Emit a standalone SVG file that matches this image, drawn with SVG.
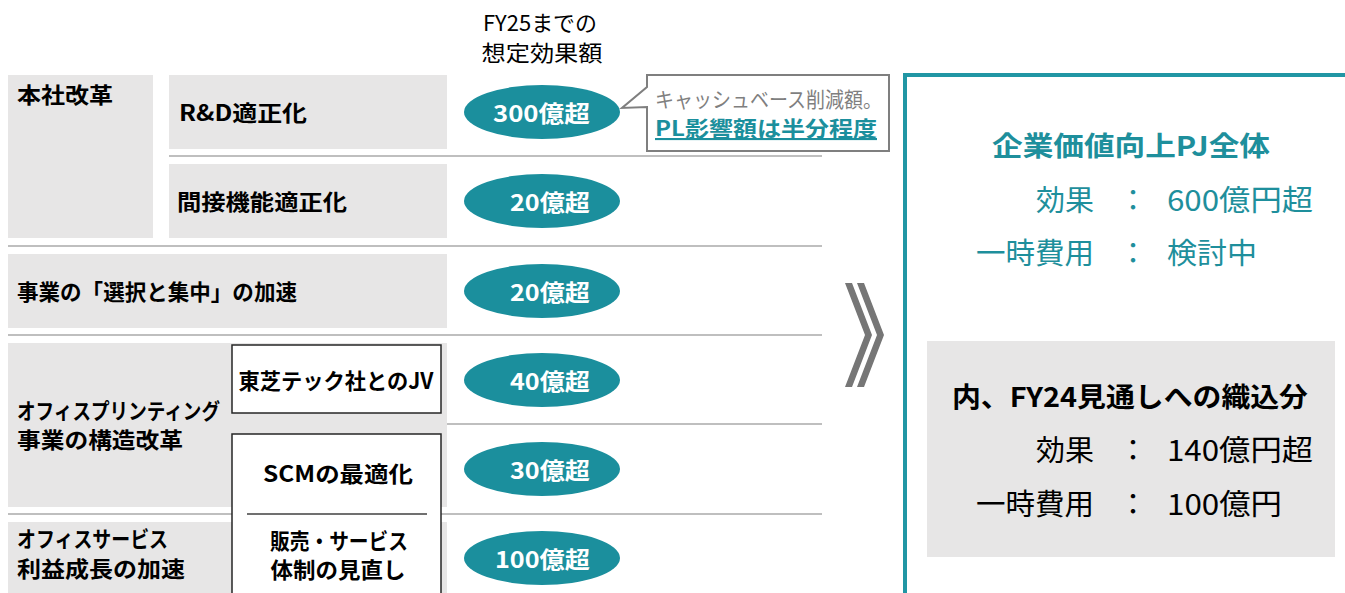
<svg xmlns="http://www.w3.org/2000/svg" width="1345" height="593" viewBox="0 0 1345 593">
<style>
text{font-family:"Noto Sans CJK JP","Noto Sans",sans-serif;}
.gb{fill:#e7e6e6;}
.sep{stroke:#bfbfbf;stroke-width:2;}
.lbl{font-size:22px;font-weight:bold;fill:#000;}
.ell{fill:#1b8f9d;}
.et{font-size:23px;font-weight:bold;fill:#fff;text-anchor:end;}
.wb{fill:#fff;stroke:#262626;stroke-width:1.5;}
.hd{font-size:22px;fill:#000;text-anchor:middle;}
.pv{font-size:29px;fill:#1e8f9c;}
.kv{font-size:29px;fill:#000;}
</style>
<rect width="1345" height="593" fill="#fff"/>

<g id="header">
<text class="hd" x="540" y="31" textLength="114" lengthAdjust="spacingAndGlyphs">FY25までの</text>
<text class="hd" x="542" y="61" textLength="121" lengthAdjust="spacingAndGlyphs">想定効果額</text>
</g>

<g id="separators">
<line class="sep" x1="169" y1="156" x2="822" y2="156"/>
<line class="sep" x1="8" y1="246" x2="822" y2="246"/>
<line class="sep" x1="8" y1="335" x2="822" y2="335"/>
<line class="sep" x1="447" y1="424" x2="822" y2="424"/>
<line class="sep" x1="8" y1="514" x2="822" y2="514"/>
</g>

<g id="honsha">
<rect class="gb" x="8" y="75" width="145" height="163"/>
<text class="lbl" x="17" y="103" textLength="96" lengthAdjust="spacingAndGlyphs">本社改革</text>
</g>
<g id="rnd">
<rect class="gb" x="169" y="75" width="278" height="74"/>
<text class="lbl" x="179" y="121" textLength="128" lengthAdjust="spacingAndGlyphs">R&amp;D適正化</text>
</g>
<g id="kansetsu">
<rect class="gb" x="169" y="164" width="278" height="74"/>
<text class="lbl" x="177" y="210" textLength="170" lengthAdjust="spacingAndGlyphs">間接機能適正化</text>
</g>
<g id="senntaku">
<rect class="gb" x="8" y="254" width="439" height="74"/>
<text class="lbl" x="17" y="300" textLength="280" lengthAdjust="spacingAndGlyphs">事業の「選択と集中」の加速</text>
</g>
<g id="printing">
<rect class="gb" x="8" y="343" width="439" height="164"/>
<text class="lbl" x="17" y="419" textLength="203" lengthAdjust="spacingAndGlyphs">オフィスプリンティング</text>
<text class="lbl" x="17" y="448" textLength="166" lengthAdjust="spacingAndGlyphs">事業の構造改革</text>
</g>
<g id="service">
<rect class="gb" x="8" y="522" width="439" height="75"/>
<text class="lbl" x="17" y="547" textLength="151" lengthAdjust="spacingAndGlyphs">オフィスサービス</text>
<text class="lbl" x="17" y="577" textLength="168" lengthAdjust="spacingAndGlyphs">利益成長の加速</text>
</g>
<g id="jv">
<rect class="wb" x="232" y="345" width="209" height="68"/>
<text class="lbl" x="336" y="389" text-anchor="middle" textLength="195" lengthAdjust="spacingAndGlyphs">東芝テック社とのJV</text>
</g>
<g id="scm">
<rect class="wb" x="232" y="434" width="209" height="170"/>
<line x1="247" y1="514" x2="427" y2="514" stroke="#404040" stroke-width="1.5"/>
<text class="lbl" x="338" y="482" text-anchor="middle" textLength="150" lengthAdjust="spacingAndGlyphs">SCMの最適化</text>
<text class="lbl" x="339" y="549" text-anchor="middle" textLength="138" lengthAdjust="spacingAndGlyphs">販売・サービス</text>
<text class="lbl" x="338" y="578" text-anchor="middle" textLength="135" lengthAdjust="spacingAndGlyphs">体制の見直し</text>
</g>

<g id="e300"><ellipse class="ell" cx="542" cy="112" rx="78" ry="27"/><text class="et" x="590" y="122" textLength="97" lengthAdjust="spacingAndGlyphs">300億超</text></g>
<g id="e20a"><ellipse class="ell" cx="542" cy="201" rx="78" ry="27"/><text class="et" x="590" y="211" textLength="80" lengthAdjust="spacingAndGlyphs">20億超</text></g>
<g id="e20b"><ellipse class="ell" cx="542" cy="291" rx="78" ry="27"/><text class="et" x="590" y="301" textLength="80" lengthAdjust="spacingAndGlyphs">20億超</text></g>
<g id="e40"><ellipse class="ell" cx="542" cy="380" rx="78" ry="27"/><text class="et" x="590" y="390" textLength="80" lengthAdjust="spacingAndGlyphs">40億超</text></g>
<g id="e30"><ellipse class="ell" cx="542" cy="469" rx="78" ry="27"/><text class="et" x="590" y="479" textLength="80" lengthAdjust="spacingAndGlyphs">30億超</text></g>
<g id="e100"><ellipse class="ell" cx="542" cy="558" rx="78" ry="27"/><text class="et" x="590" y="568" textLength="95" lengthAdjust="spacingAndGlyphs">100億超</text></g>

<g id="callout">
<path d="M647,75 H889 V151 H647 V107 L622,108 L647,87 Z" fill="#fff" stroke="#7f7f7f" stroke-width="2" stroke-linejoin="miter"/>
<text x="655" y="107" font-size="21" fill="#7f7f7f" textLength="227" lengthAdjust="spacingAndGlyphs">キャッシュベース削減額。</text>
<text x="655" y="136" font-size="21" font-weight="bold" fill="#1b8f9d" text-decoration="underline" textLength="222" lengthAdjust="spacingAndGlyphs">PL影響額は半分程度</text>
</g>

<g id="chevron" fill="#767676">
<polygon points="845,283 852,283 872,335 852,387 845,387 865,335"/>
<polygon points="857,283 864,283 884,335 864,387 857,387 877,335"/>
</g>

<g id="total">
<rect x="905" y="75" width="450" height="530" fill="#fff" stroke="#2196a4" stroke-width="4"/>
<text x="992" y="156" font-size="27" font-weight="bold" fill="#1e8f9c" textLength="278" lengthAdjust="spacingAndGlyphs">企業価値向上PJ全体</text>
<text class="pv" x="1036" y="211" textLength="58" lengthAdjust="spacingAndGlyphs">効果</text>
<text class="pv" x="1133" y="211" text-anchor="middle">：</text>
<text class="pv" x="1167" y="211" textLength="146" lengthAdjust="spacingAndGlyphs">600億円超</text>
<text class="pv" x="976" y="264" textLength="118" lengthAdjust="spacingAndGlyphs">一時費用</text>
<text class="pv" x="1133" y="264" text-anchor="middle">：</text>
<text class="pv" x="1167" y="264" textLength="90" lengthAdjust="spacingAndGlyphs">検討中</text>
</g>

<g id="fy24">
<rect x="927" y="341" width="408" height="216" fill="#e7e6e6"/>
<text x="952" y="407" font-size="27" font-weight="bold" fill="#000" textLength="356" lengthAdjust="spacingAndGlyphs">内、FY24見通しへの織込分</text>
<text class="kv" x="1036" y="461" textLength="58" lengthAdjust="spacingAndGlyphs">効果</text>
<text class="kv" x="1133" y="461" text-anchor="middle">：</text>
<text class="kv" x="1167" y="461" textLength="146" lengthAdjust="spacingAndGlyphs">140億円超</text>
<text class="kv" x="976" y="515" textLength="118" lengthAdjust="spacingAndGlyphs">一時費用</text>
<text class="kv" x="1133" y="515" text-anchor="middle">：</text>
<text class="kv" x="1167" y="515" textLength="115" lengthAdjust="spacingAndGlyphs">100億円</text>
</g>
</svg>
